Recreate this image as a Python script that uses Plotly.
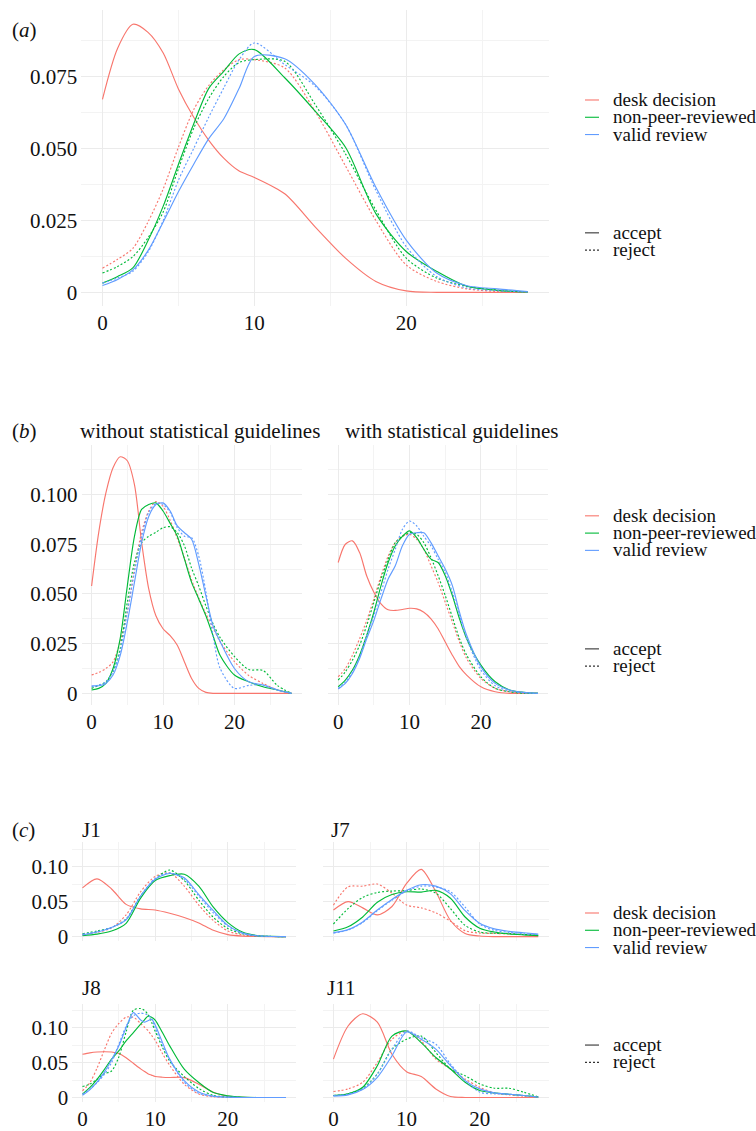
import plotly.graph_objects as go

# ---------------- data ----------------
# evaluation grids (x = number of ... per manuscript)
X_A = [0, 1, 2, 3, 4, 5, 6, 7, 8, 9, 10, 12, 14, 16, 18, 20, 22, 24, 26, 28]
X_B = [0, 1, 2, 3, 4, 5, 6, 7, 8, 9, 10, 11, 12, 13, 14, 15, 16, 17, 18, 20, 22, 24, 26, 28]
X_C = [0, 2, 4, 6, 8, 10, 12, 14, 16, 18, 20, 22, 24, 26, 28]
X_J8 = [0, 1, 2, 3, 4, 5, 6, 7, 8, 8.5, 9, 9.5, 10, 11, 12, 14, 16, 18, 20, 22, 24, 26, 28]

CATEGORIES = ["desk decision", "non-peer-reviewed", "valid review"]
DECISIONS = ["accept", "reject"]

# (a) all journals
a_desk_acc = [0.0672, 0.085, 0.0933, 0.0905, 0.0833, 0.0708, 0.061, 0.0529, 0.0466, 0.0422, 0.040, 0.0343, 0.0228, 0.0119, 0.0038, 0.0005, 0, 0, 0, 0]
a_desk_rej = [0.0084, 0.0115, 0.0153, 0.0245, 0.036, 0.0505, 0.0635, 0.072, 0.0775, 0.081, 0.081, 0.0781, 0.063, 0.044, 0.025, 0.0095, 0.0038, 0.0012, 0.0003, 0]
a_npr_acc = [0.0032, 0.0055, 0.0085, 0.018, 0.030, 0.0445, 0.0585, 0.071, 0.077, 0.083, 0.0845, 0.0747, 0.0631, 0.0505, 0.0274, 0.0142, 0.0073, 0.0021, 0.0007, 0.0001]
a_npr_rej = [0.0067, 0.009, 0.0124, 0.019, 0.028, 0.043, 0.057, 0.0675, 0.0752, 0.080, 0.081, 0.0804, 0.0654, 0.0482, 0.0286, 0.0119, 0.005, 0.0021, 0.0008, 0.0001]
a_val_acc = [0.0024, 0.0045, 0.0078, 0.0145, 0.0245, 0.035, 0.0445, 0.0535, 0.0605, 0.071, 0.0821, 0.0813, 0.0723, 0.0585, 0.0366, 0.0182, 0.0067, 0.0023, 0.0012, 0.0003]
a_val_rej = [0.0032, 0.005, 0.0073, 0.014, 0.025, 0.039, 0.050, 0.061, 0.0713, 0.081, 0.0868, 0.0793, 0.0718, 0.0585, 0.0355, 0.0159, 0.0055, 0.0015, 0.0006, 0.0001]

# (b) without statistical guidelines
bl_desk_acc = [0.054, 0.081, 0.1008, 0.1135, 0.119, 0.117, 0.105, 0.076, 0.0525, 0.039, 0.0325, 0.029, 0.0242, 0.0158, 0.0075, 0.0025, 0.0005, 0, 0, 0, 0, 0, 0, 0]
bl_desk_rej = [0.0092, 0.0105, 0.0125, 0.0158, 0.026, 0.041, 0.0625, 0.081, 0.0917, 0.0965, 0.094, 0.087, 0.078, 0.068, 0.057, 0.048, 0.040, 0.033, 0.026, 0.016, 0.009, 0.005, 0.0018, 0]
bl_npr_acc = [0.0017, 0.0025, 0.005, 0.0125, 0.0275, 0.054, 0.079, 0.0925, 0.095, 0.0958, 0.0917, 0.0855, 0.079, 0.0675, 0.0558, 0.0475, 0.039, 0.029, 0.019, 0.0092, 0.0058, 0.0033, 0.0017, 0]
bl_npr_rej = [0.0025, 0.004, 0.0058, 0.011, 0.0225, 0.0458, 0.0658, 0.0758, 0.079, 0.081, 0.0833, 0.0838, 0.0808, 0.0742, 0.063, 0.054, 0.044, 0.035, 0.028, 0.0185, 0.012, 0.0115, 0.004, 0]
bl_val_acc = [0.0038, 0.0038, 0.005, 0.0092, 0.019, 0.0358, 0.0558, 0.0758, 0.089, 0.095, 0.0958, 0.0917, 0.0842, 0.0808, 0.0775, 0.065, 0.049, 0.034, 0.026, 0.0125, 0.0058, 0.0042, 0.0017, 0]
bl_val_rej = [0.0033, 0.0042, 0.0058, 0.011, 0.021, 0.041, 0.061, 0.079, 0.091, 0.0955, 0.095, 0.091, 0.0833, 0.079, 0.0783, 0.069, 0.051, 0.029, 0.0125, 0.0025, 0.004, 0.0042, 0.0017, 0]

# (b) with statistical guidelines
br_desk_acc = [0.0658, 0.075, 0.0767, 0.0708, 0.059, 0.0508, 0.045, 0.042, 0.0417, 0.0422, 0.0428, 0.0425, 0.0408, 0.0375, 0.0325, 0.0258, 0.0192, 0.0133, 0.0092, 0.0033, 0.0008, 0, 0, 0]
br_desk_rej = [0.0083, 0.0125, 0.0192, 0.0275, 0.0367, 0.0475, 0.059, 0.069, 0.0758, 0.079, 0.080, 0.0775, 0.0725, 0.0642, 0.0558, 0.0458, 0.0358, 0.0258, 0.0175, 0.0075, 0.0025, 0.0008, 0, 0]
br_npr_acc = [0.0033, 0.0067, 0.0117, 0.0192, 0.0292, 0.0408, 0.0542, 0.0658, 0.0742, 0.079, 0.0817, 0.0783, 0.0725, 0.0675, 0.0658, 0.0592, 0.0492, 0.0375, 0.0275, 0.0142, 0.0058, 0.0017, 0.0005, 0]
br_npr_rej = [0.0067, 0.0108, 0.0167, 0.0242, 0.0342, 0.0458, 0.0575, 0.0675, 0.0758, 0.079, 0.0808, 0.080, 0.0758, 0.0683, 0.0592, 0.0492, 0.0383, 0.0275, 0.0192, 0.0083, 0.0025, 0.0008, 0, 0]
br_val_acc = [0.0022, 0.005, 0.010, 0.0175, 0.0275, 0.0367, 0.0475, 0.0575, 0.0642, 0.0742, 0.080, 0.0808, 0.0808, 0.0758, 0.0692, 0.0625, 0.0542, 0.0408, 0.0292, 0.0133, 0.005, 0.0017, 0.0005, 0]
br_val_rej = [0.0025, 0.0058, 0.0108, 0.0183, 0.0292, 0.0392, 0.0508, 0.0625, 0.0725, 0.0825, 0.0867, 0.0842, 0.079, 0.0742, 0.0675, 0.0608, 0.0508, 0.0392, 0.0275, 0.0117, 0.0038, 0.0012, 0.0003, 0]

# (c) selected journals
j1_desk_acc = [0.0695, 0.0825, 0.068, 0.046, 0.0395, 0.038, 0.0333, 0.0273, 0.0195, 0.009, 0.0028, 0.0007, 0.0001, 0, 0]
j1_desk_rej = [0.003, 0.006, 0.0125, 0.031, 0.064, 0.086, 0.091, 0.072, 0.045, 0.023, 0.008, 0.0025, 0.0006, 0.0001, 0]
j1_npr_acc = [0.0015, 0.0035, 0.008, 0.019, 0.055, 0.080, 0.087, 0.089, 0.072, 0.042, 0.020, 0.0065, 0.0015, 0.0003, 0]
j1_npr_rej = [0.004, 0.008, 0.013, 0.025, 0.058, 0.082, 0.095, 0.080, 0.052, 0.0276, 0.0115, 0.004, 0.001, 0.0002, 0]
j1_val_acc = [0.0025, 0.0065, 0.013, 0.024, 0.058, 0.082, 0.090, 0.084, 0.060, 0.037, 0.016, 0.005, 0.0012, 0.0002, 0]
j1_val_rej = [0.0033, 0.007, 0.013, 0.025, 0.058, 0.083, 0.091, 0.082, 0.058, 0.034, 0.015, 0.005, 0.0012, 0.0002, 0]

j7_desk_acc = [0.038, 0.050, 0.041, 0.031, 0.043, 0.076, 0.096, 0.064, 0.023, 0.0045, 0.0008, 0, 0, 0, 0]
j7_desk_rej = [0.045, 0.071, 0.072, 0.075, 0.062, 0.045, 0.041, 0.034, 0.022, 0.0085, 0.005, 0.0045, 0.0038, 0.003, 0.0022]
j7_npr_acc = [0.008, 0.014, 0.028, 0.049, 0.060, 0.064, 0.0635, 0.066, 0.0548, 0.028, 0.012, 0.0065, 0.0038, 0.0025, 0.0015]
j7_npr_rej = [0.018, 0.040, 0.056, 0.063, 0.065, 0.0657, 0.068, 0.062, 0.040, 0.016, 0.0065, 0.0048, 0.0045, 0.003, 0.002]
j7_val_acc = [0.0057, 0.010, 0.021, 0.038, 0.053, 0.066, 0.074, 0.072, 0.061, 0.037, 0.019, 0.011, 0.0075, 0.0055, 0.0035]
j7_val_rej = [0.005, 0.0095, 0.020, 0.037, 0.052, 0.065, 0.072, 0.071, 0.064, 0.042, 0.018, 0.009, 0.006, 0.004, 0.003]

j8_desk_acc = [0.062, 0.064, 0.0652, 0.0655, 0.0652, 0.063, 0.057, 0.049, 0.041, 0.0375, 0.034, 0.032, 0.030, 0.029, 0.0286, 0.0284, 0.019, 0.0075, 0.0018, 0.0003, 0, 0, 0]
j8_desk_rej = [0.0095, 0.021, 0.042, 0.068, 0.092, 0.106, 0.115, 0.115, 0.106, 0.101, 0.096, 0.089, 0.082, 0.063, 0.046, 0.019, 0.005, 0.001, 0, 0, 0, 0, 0]
j8_npr_acc = [0.0048, 0.014, 0.026, 0.040, 0.055, 0.0667, 0.081, 0.093, 0.105, 0.111, 0.1165, 0.115, 0.111, 0.093, 0.074, 0.0405, 0.0214, 0.0071, 0.0024, 0.0005, 0, 0, 0]
j8_npr_rej = [0.0157, 0.019, 0.026, 0.034, 0.038, 0.058, 0.094, 0.125, 0.1275, 0.125, 0.119, 0.108, 0.095, 0.072, 0.052, 0.030, 0.013, 0.003, 0.0008, 0, 0, 0, 0]
j8_val_acc = [0.0033, 0.011, 0.022, 0.036, 0.054, 0.074, 0.100, 0.1215, 0.111, 0.108, 0.110, 0.112, 0.104, 0.079, 0.055, 0.024, 0.008, 0.002, 0.0005, 0, 0, 0, 0]
j8_val_rej = [0.0048, 0.012, 0.021, 0.033, 0.050, 0.076, 0.102, 0.117, 0.121, 0.120, 0.118, 0.113, 0.100, 0.075, 0.054, 0.022, 0.006, 0.0015, 0.0003, 0, 0, 0, 0]

j11_desk_acc = [0.055, 0.1024, 0.120, 0.108, 0.062, 0.037, 0.030, 0.0123, 0.0014, 0, 0, 0, 0, 0, 0]
j11_desk_rej = [0.0085, 0.0123, 0.0218, 0.0502, 0.0834, 0.0953, 0.081, 0.055, 0.0408, 0.0265, 0.0147, 0.0066, 0.0038, 0.0019, 0.0005]
j11_npr_acc = [0.0028, 0.0052, 0.0147, 0.0455, 0.088, 0.0953, 0.0787, 0.0573, 0.0408, 0.0218, 0.010, 0.0066, 0.0047, 0.0028, 0.0005]
j11_npr_rej = [0.0028, 0.0052, 0.0133, 0.0336, 0.0692, 0.0834, 0.088, 0.0645, 0.0408, 0.0313, 0.0194, 0.0133, 0.0133, 0.0076, 0.001]
j11_val_acc = [0.0019, 0.0038, 0.0114, 0.0289, 0.0597, 0.0938, 0.0834, 0.0692, 0.0455, 0.0242, 0.0123, 0.0066, 0.0047, 0.0028, 0.0005]
j11_val_rej = [0.0028, 0.0047, 0.0123, 0.0336, 0.0692, 0.0953, 0.0858, 0.0763, 0.0479, 0.0242, 0.0076, 0.0052, 0.0047, 0.0028, 0.0005]

# axis ticks
X_TICKS = [0, 10, 20]
X_TICKTEXT = ["0", "10", "20"]
Y_TICKS_A = [0, 0.025, 0.05, 0.075]
Y_TICKTEXT_A = ["0", "0.025", "0.050", "0.075"]
Y_TICKS_B = [0, 0.025, 0.05, 0.075, 0.1]
Y_TICKTEXT_B = ["0", "0.025", "0.050", "0.075", "0.100"]
Y_TICKS_C = [0, 0.05, 0.1]
Y_TICKTEXT_C = ["0", "0.05", "0.10"]

# ---------------- styling ----------------
W, H = 756, 1131
FONT = "Liberation Serif, Times New Roman, DejaVu Serif, serif"
TEXT = "#111111"
COLORS = ["#F8766D", "#00BA38", "#619CFF"]
DASHES = ["solid", "2px,2px"]
GRID = "#EBEBEB"
GRID_MINOR = "#F3F3F3"
TICK_SIZE = 21
TITLE_SIZE = 21
LEGEND_SIZE = 19


def px_x(l, r):
    return [l / W, r / W]


def px_y(top, bottom):
    return [1 - bottom / H, 1 - top / H]


# panel definitions: x grid, curves (category x decision), pixel box, y setup
panels = [
    dict(x=X_A, curves=[[a_desk_acc, a_desk_rej], [a_npr_acc, a_npr_rej], [a_val_acc, a_val_rej]],
         box=(81.2, 549, 10, 308), yr=[-0.0047, 0.0983], yt=Y_TICKS_A, ytt=Y_TICKTEXT_A,
         ylab=True, xlab=True),
    dict(x=X_B, curves=[[bl_desk_acc, bl_desk_rej], [bl_npr_acc, bl_npr_rej], [bl_val_acc, bl_val_rej]],
         box=(81.6, 301.6, 448, 710.3), yr=[-0.006, 0.125], yt=Y_TICKS_B, ytt=Y_TICKTEXT_B,
         ylab=True, xlab=True),
    dict(x=X_B, curves=[[br_desk_acc, br_desk_rej], [br_npr_acc, br_npr_rej], [br_val_acc, br_val_rej]],
         box=(328.2, 548, 448, 710.3), yr=[-0.006, 0.125], yt=Y_TICKS_B, ytt=Y_TICKTEXT_B,
         ylab=False, xlab=True),
    dict(x=X_C, curves=[[j1_desk_acc, j1_desk_rej], [j1_npr_acc, j1_npr_rej], [j1_val_acc, j1_val_rej]],
         box=(72.3, 296.2, 848.3, 947.8), yr=[-0.0064, 0.1346], yt=Y_TICKS_C, ytt=Y_TICKTEXT_C,
         ylab=True, xlab=False),
    dict(x=X_C, curves=[[j7_desk_acc, j7_desk_rej], [j7_npr_acc, j7_npr_rej], [j7_val_acc, j7_val_rej]],
         box=(323.2, 548.5, 848.3, 947.8), yr=[-0.0064, 0.1346], yt=Y_TICKS_C, ytt=Y_TICKTEXT_C,
         ylab=False, xlab=False),
    dict(x=X_J8, curves=[[j8_desk_acc, j8_desk_rej], [j8_npr_acc, j8_npr_rej], [j8_val_acc, j8_val_rej]],
         box=(72.3, 296.2, 1010.7, 1109.8), yr=[-0.0064, 0.1346], yt=Y_TICKS_C, ytt=Y_TICKTEXT_C,
         ylab=True, xlab=True),
    dict(x=X_C, curves=[[j11_desk_acc, j11_desk_rej], [j11_npr_acc, j11_npr_rej], [j11_val_acc, j11_val_rej]],
         box=(323.2, 548.5, 1010.7, 1109.8), yr=[-0.0064, 0.1346], yt=Y_TICKS_C, ytt=Y_TICKTEXT_C,
         ylab=False, xlab=True),
]

fig = go.Figure()
layout = {}

for i, p in enumerate(panels):
    n = i + 1
    sfx = "" if n == 1 else str(n)
    for ci, pair in enumerate(p["curves"]):
        for di, ys in enumerate(pair):
            assert len(ys) == len(p["x"]), (n, ci, di, len(ys), len(p["x"]))
            fig.add_trace(go.Scatter(
                x=p["x"], y=ys, mode="lines",
                line=dict(color=COLORS[ci], width=1.15, dash=DASHES[di],
                          shape="spline", smoothing=0.8),
                xaxis="x" + sfx, yaxis="y" + sfx,
                showlegend=False, hoverinfo="skip",
            ))
    l, r, t, b = p["box"]
    yt = p["yt"]
    step = yt[1] - yt[0]
    y_minor = [v + step / 2 for v in yt]
    layout["xaxis" + sfx] = dict(
        domain=px_x(l, r), range=[-1.4, 29.4], anchor="y" + sfx,
        tickmode="array", tickvals=X_TICKS, ticktext=X_TICKTEXT,
        showticklabels=p["xlab"], showline=False, zeroline=False, ticks="",
        showgrid=True, gridcolor=GRID, gridwidth=1,
        minor=dict(tickmode="array", tickvals=[5, 15, 25], showgrid=True,
                   gridcolor=GRID_MINOR, gridwidth=1),
        tickfont=dict(family=FONT, size=TICK_SIZE, color=TEXT),
        ticklabelstandoff=2,
        fixedrange=True,
    )
    layout["yaxis" + sfx] = dict(
        domain=px_y(t, b), range=p["yr"], anchor="x" + sfx,
        tickmode="array", tickvals=yt, ticktext=p["ytt"],
        showticklabels=p["ylab"], showline=False, zeroline=False, ticks="",
        showgrid=True, gridcolor=GRID, gridwidth=1,
        minor=dict(tickmode="array", tickvals=y_minor, showgrid=True,
                   gridcolor=GRID_MINOR, gridwidth=1),
        tickfont=dict(family=FONT, size=TICK_SIZE, color=TEXT),
        ticklabelstandoff=3,
        fixedrange=True,
    )

annotations = []
shapes = []


def add_text(txt, x, y, size=TITLE_SIZE, xanchor="left"):
    annotations.append(dict(
        text=txt, x=x / W, y=1 - y / H, xref="paper", yref="paper",
        xanchor=xanchor, yanchor="middle", showarrow=False,
        font=dict(family=FONT, size=size, color=TEXT),
    ))


# panel letters and facet titles
add_text("(<i>a</i>)", 10, 30)
add_text("(<i>b</i>)", 10, 434)
add_text("without statistical guidelines", 77.5, 434)
add_text("with statistical guidelines", 343, 434)
add_text("(<i>c</i>)", 10, 836)
add_text("J1", 79.5, 836)
add_text("J7", 329, 836)
add_text("J8", 79.5, 995)
add_text("J11", 324.5, 995)

# legends (one per panel group): colour keys and line-type keys
legend_rows = [
    (100.7, 234.5),
    (519.5, 653.5),
    (919.5, 1052.5),
]
for y_col, y_lt in legend_rows:
    for k, (name, col) in enumerate(zip(CATEGORIES, COLORS)):
        yy = y_col + k * 17.4
        shapes.append(dict(type="line", xref="paper", yref="paper",
                           x0=585 / W, x1=599 / W, y0=1 - yy / H, y1=1 - yy / H,
                           line=dict(color=col, width=1.1)))
        add_text(name, 610.5, yy - 0.5, size=LEGEND_SIZE)
    for k, (name, dash) in enumerate(zip(DECISIONS, DASHES)):
        yy = y_lt + k * 17.4
        shapes.append(dict(type="line", xref="paper", yref="paper",
                           x0=585 / W, x1=599 / W, y0=1 - yy / H, y1=1 - yy / H,
                           line=dict(color="#333333", width=1.1, dash=dash)))
        add_text(name, 610.5, yy - 0.5, size=LEGEND_SIZE)

fig.update_layout(
    width=W, height=H,
    margin=dict(l=0, r=0, t=0, b=0),
    paper_bgcolor="white", plot_bgcolor="white",
    showlegend=False,
    annotations=annotations, shapes=shapes,
    font=dict(family=FONT, color=TEXT),
    **layout,
)

fig.write_html("out.html")
